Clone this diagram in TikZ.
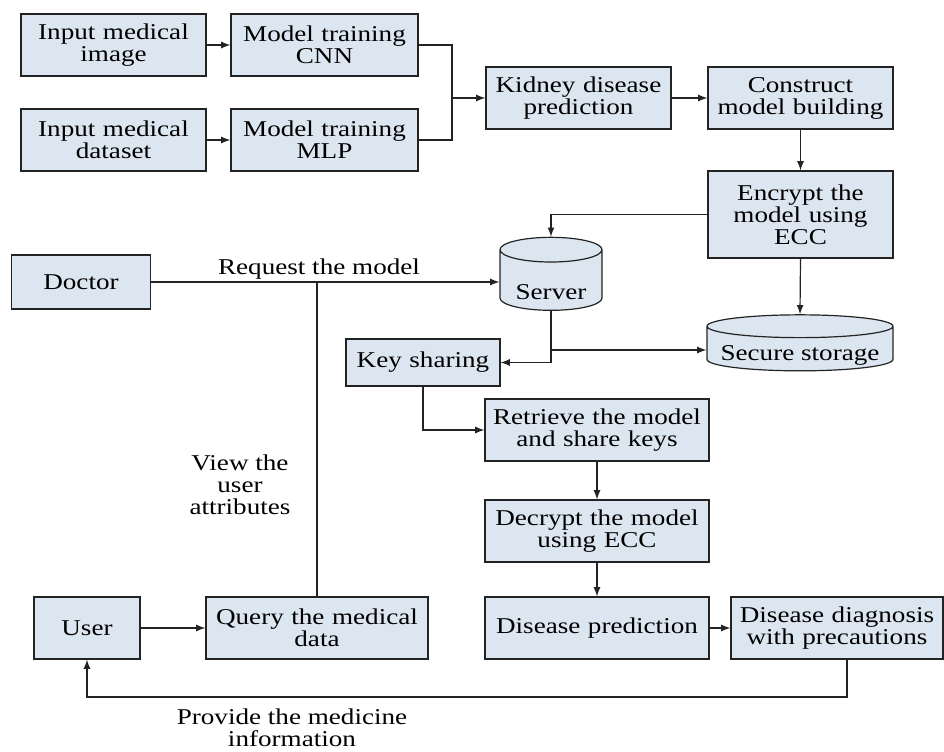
\documentclass[tikz,border=0pt]{standalone}
\usepackage{fontspec}
\setmainfont{Liberation Serif}[FakeStretch=1.2]
\usetikzlibrary{positioning}
\usetikzlibrary{shapes.geometric}

\definecolor{boxfill}{RGB}{220,230,241}
\definecolor{edgedark}{RGB}{35,35,35}

\tikzstyle{blockB} = [draw=edgedark, fill=boxfill, line width=0.6pt, text centered, inner sep=2pt, minimum height=31pt]
\tikzstyle{dbase} = [draw=edgedark, fill=boxfill, line width=0.6pt, cylinder, shape border rotate=90, inner sep=1pt]
\tikzstyle{arrow} = [draw=edgedark, line width=0.6pt, -latex]
\tikzstyle{line} = [draw=edgedark, line width=0.6pt]

\begin{document}
\begin{tikzpicture}[x=0.5pt, y=-0.5pt, node distance=105.5pt, auto, font=\fontsize{11.3pt}{11pt}\selectfont]
    \useasboundingbox (0,0) rectangle (944,751);

    % training part
    \node [blockB, text width=88.5pt] (img) at (113.5,45) {Input medical\\image};
    \node [blockB, text width=89.5pt, right of=img] (cnn) {Model training\\CNN};
    \node [blockB, text width=88.5pt] (dset) at (113.5,140) {Input medical\\dataset};
    \node [blockB, text width=89.5pt, right of=dset] (mlp) {Model training\\MLP};
    \coordinate (jn) at (452,98);
    \node [blockB, text width=88.5pt] (kidney) at (578.5,98) {Kidney disease\\prediction};
    \node [blockB, text width=88.5pt] (construct) at (800.5,98) {Construct\\model building};
    \node [blockB, text width=88.5pt, minimum height=43.5pt] (encrypt) at (800.5,214.5) {Encrypt the\\model using\\ECC};

    % server side
    \node [dbase, minimum width=51pt, minimum height=36.5pt, aspect=0.33] (server) at (551,282) {\raisebox{-8.5pt}[0pt][0pt]{Server}};
    \node [dbase, minimum width=93pt, minimum height=28pt, aspect=0.14] (storage) at (800,350) {\raisebox{-5pt}[0pt][0pt]{Secure storage}};
    \node [blockB, text width=65.5pt, minimum height=27pt] (doctor) at (81,282) {Doctor};
    \node [blockB, text width=73pt, minimum height=23.5pt] (keyshare) at (423,362.5) {Key sharing};
    \node [blockB, text width=108pt] (retrieve) at (597,430) {Retrieve the model\\and share keys};
    \node [blockB, text width=108pt] (decrypt) at (597,531) {Decrypt the model\\using ECC};
    \node [blockB, text width=108pt] (dpred) at (597,628) {Disease prediction};
    \node [blockB, text width=102pt] (diag) at (837,628) {Disease diagnosis\\with precautions};

    % user side
    \node [blockB, text width=49pt] (user) at (87,628) {User};
    \node [blockB, text width=107pt] (query) at (317,628) {Query the medical\\data};
    \coordinate (loop) at (0,697);

    \node (reqlbl) at (319,269) {Request the model};
    \node [align=center] (viewlbl) at (240,485) {View the\\user\\attributes};
    \node [align=center] (medlbl) at (292,728) {Provide the medicine\\information};

    \draw [arrow] (img) to (cnn);
    \draw [arrow] (dset) to (mlp);
    \draw [line] (cnn.east) -| (jn);
    \draw [line] (mlp.east) -| (jn);
    \draw [arrow] (jn) to (kidney);
    \draw [arrow] (kidney) to (construct);
    \draw [arrow] (construct) to (encrypt);
    \draw [arrow] (encrypt.west) -| (server.north);
    \draw [arrow] (encrypt.south) to (storage.north);
    \draw [arrow] (doctor.east) to (server.west);
    \draw [line] (query.north) to (query.north |- doctor.east);
    \draw [arrow] (server.south) |- (storage.west);
    \draw [arrow] (server.south) |- (keyshare.east);
    \draw [arrow] (keyshare.south) |- (retrieve.west);
    \draw [arrow] (retrieve) to (decrypt);
    \draw [arrow] (decrypt) to (dpred);
    \draw [arrow] (dpred) to (diag);
    \draw [arrow] (user) to (query);
    \draw [arrow] ([xshift=5pt]diag.south) -- ([xshift=5pt]diag.south |- loop) -| (user.south);
  \end{tikzpicture}
\end{document}
